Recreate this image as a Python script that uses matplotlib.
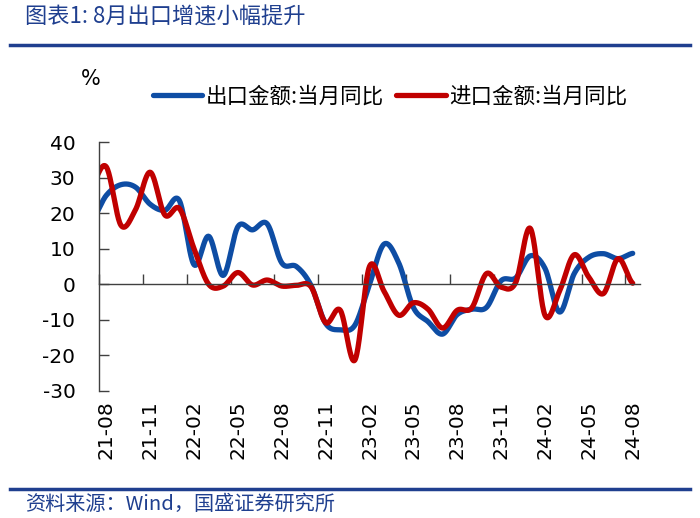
import matplotlib.pyplot as plt
from matplotlib.lines import Line2D
import numpy as np

plt.rcParams['axes.unicode_minus'] = False

# monthly data, 21-07 is only there so the curve runs into the left spine (clipped)
months = ['21-07', '21-08', '21-09', '21-10', '21-11', '21-12',
          '22-01', '22-02', '22-03', '22-04', '22-05', '22-06',
          '22-07', '22-08', '22-09', '22-10', '22-11', '22-12',
          '23-01', '23-02', '23-03', '23-04', '23-05', '23-06',
          '23-07', '23-08', '23-09', '23-10', '23-11', '23-12',
          '24-01', '24-02', '24-03', '24-04', '24-05', '24-06',
          '24-07', '24-08']
export_yoy = [18.0, 25.0, 28.0, 27.3, 22.5, 20.8,
              23.5, 5.5, 13.5, 2.5, 16.2, 15.3,
              17.0, 6.0, 5.0, -0.3, -11.0, -12.8,
              -11.5, 0.0, 11.3, 6.0, -6.5, -10.5,
              -14.0, -8.5, -7.0, -6.5, 1.0, 1.8,
              8.0, 4.5, -7.8, 3.0, 7.6, 8.6,
              7.2, 8.7]
import_yoy = [28.1, 33.0, 16.6, 21.0, 31.5, 19.5,
              21.3, 10.0, 0.0, -0.5, 3.3, -0.2,
              1.2, -0.5, -0.3, -0.7, -10.8, -7.3,
              -21.3, 5.0, -2.0, -8.7, -5.2, -7.0,
              -12.3, -7.3, -6.6, 3.0, -0.8, 0.5,
              15.7, -8.7, -1.9, 8.3, 2.0, -2.6,
              7.2, 0.3]
tick_labels = ['21-08', '21-11', '22-02', '22-05', '22-08', '22-11', '23-02',
               '23-05', '23-08', '23-11', '24-02', '24-05', '24-08']
series_names = ['出口金额:当月同比', '进口金额:当月同比']

BLUE = '#0E4DA4'
RED = '#C00000'
NAVY = '#1F3F8F'
CJK = ['Noto Sans CJK SC', 'DejaVu Sans']


def smooth(y, n=24):
    # Catmull-Rom curve, like the smoothed line of the spreadsheet chart
    y = np.asarray(y, dtype=float)
    p = np.concatenate([[y[0]], y, [y[-1]]])
    t = np.linspace(0, 1, n, endpoint=False)
    xs, ys = [], []
    for i in range(len(y) - 1):
        p0, p1, p2, p3 = p[i:i + 4]
        seg = 0.5 * (2 * p1 + (p2 - p0) * t + (2 * p0 - 5 * p1 + 4 * p2 - p3) * t ** 2
                     + (3 * p1 - p0 - 3 * p2 + p3) * t ** 3)
        xs.append(i + t)
        ys.append(seg)
    xs.append([len(y) - 1])
    ys.append([y[-1]])
    return np.concatenate(xs), np.concatenate(ys)


x0 = -months.index('21-08')  # category positions: 21-08 -> 0
fig = plt.figure(figsize=(7, 5.18), dpi=100)
ax = fig.add_axes([99 / 700, 1 - 391 / 518, 541 / 700, 249 / 518])

handles = []
for vals, color in [(export_yoy, BLUE), (import_yoy, RED)]:
    xs, ys = smooth(vals)
    h, = ax.plot(xs + x0, ys, color=color, lw=3.8, solid_capstyle='round')
    handles.append(h)

n_cat = len(months) - 1
ax.set_xlim(-0.5, n_cat - 0.5)
ax.set_ylim(-30, 40)
ax.set_yticks(range(-30, 41, 10))

for side in ['top', 'right']:
    ax.spines[side].set_visible(False)
ax.spines['bottom'].set_position(('data', 0))
for side in ['left', 'bottom']:
    ax.spines[side].set_color('#404040')
    ax.spines[side].set_linewidth(1.0)

# tick marks between categories, every 3 months
ax.set_xticks(np.arange(-0.5, n_cat, 3))
ax.tick_params(axis='x', direction='in', length=7, width=1, color='#404040', labelbottom=False)
ax.tick_params(axis='y', direction='in', length=7, width=1, color='#404040', pad=17,
               labelsize=14.5, labelcolor='black')

sec = ax.secondary_xaxis('bottom')
sec.set_xticks([months.index(m) + x0 for m in tick_labels], tick_labels, rotation=90)
sec.tick_params(length=0, pad=7, labelsize=14.5, labelcolor='black')
sec.spines['bottom'].set_visible(False)

ax.legend(handles, series_names, ncol=2, frameon=False, loc='center',
          bbox_to_anchor=(390 / 700, 1 - 97 / 518), bbox_transform=fig.transFigure,
          prop={'family': CJK, 'size': 15.5}, handlelength=2.3, handletextpad=0.15,
          columnspacing=0.6)

fig.text(91 / 700, 1 - 79 / 518, '%', ha='center', va='center', fontsize=15, color='black')

# header and footer
fig.text(25 / 700, 1 - 17 / 518, '图表1: 8月出口增速小幅提升', ha='left', va='center',
         fontsize=16, color=NAVY, family=CJK)
fig.add_artist(Line2D([10 / 700, 690 / 700], [1 - 45 / 518] * 2, color=NAVY, lw=2.5))
fig.add_artist(Line2D([10 / 700, 690 / 700], [1 - 489 / 518] * 2, color=NAVY, lw=2.5))
fig.text(25 / 700, 1 - 504 / 518, '资料来源：Wind，国盛证券研究所', ha='left', va='center',
         fontsize=14.5, color=NAVY, family=CJK)

fig.savefig('out.png', dpi=100, facecolor='white')
